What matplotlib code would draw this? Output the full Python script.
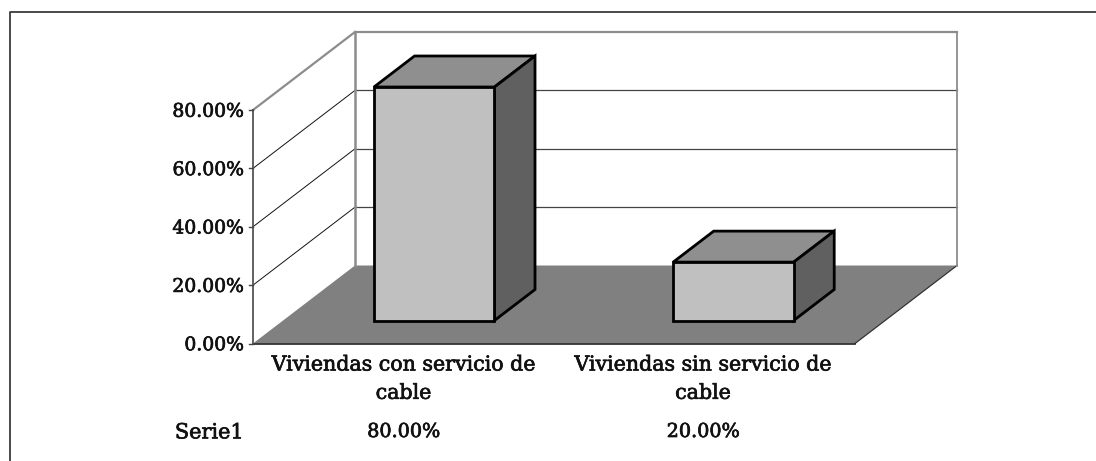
import matplotlib
matplotlib.use('Agg')
import matplotlib.pyplot as plt
import matplotlib.patheffects as pe

# data
categories = ['Viviendas con servicio de\ncable', 'Viviendas sin servicio de\ncable']
values = [80.0, 20.0]
y_ticks = [0, 20, 40, 60, 80]
series_name = 'Serie1'

W, H = 1096, 461
plt.rcParams['font.family'] = ['DejaVu Serif']

fig = plt.figure(figsize=(W / 100, H / 100), dpi=100)
ax = fig.add_axes([0, 0, 1, 1])

# one category = 301 px, 80% = 233.5 px, front corner of the floor at (253, 343.5)
ux = 301
uy = 233.5 / 80
ax.set_xlim(-253 / ux, (W - 253) / ux)
ax.set_ylim(-(H - 343.5) / uy, 343.5 / uy)
ax.axis('off')

# depth of the floor, in data units
depth_x = 102 / ux
depth_y = 78 / uy
n = len(categories)

# regular serif with a thin stroke, closer to the semi-bold face of the original
heavy = [pe.withStroke(linewidth=0.5, foreground='#111111')]


def pt(x, y, d=0.0):
    return (x + d * depth_x, y + d * depth_y)


def line(p, q, **kw):
    ax.plot([p[0], q[0]], [p[1], q[1]], solid_capstyle='projecting', **kw)


def poly(pts, **kw):
    ax.fill([p[0] for p in pts], [p[1] for p in pts], **kw)


# outer frame
frame_x = (10 - 253) / ux
frame_y = (343.5 - 12) / uy
ax.plot([frame_x, frame_x, ax.get_xlim()[1]], [ax.get_ylim()[0], frame_y, frame_y],
        color='#3c3c3c', lw=1.3, clip_on=False)

# floor
poly([pt(0, 0), pt(n, 0), pt(n, 0, 1), pt(0, 0, 1)], fc='#808080', ec='none', zorder=1)
line(pt(n, 0), pt(n, 0, 1), color='#333333', lw=0.9, zorder=2)
line(pt(0, 0), pt(n, 0), color='#222222', lw=1.2, zorder=2)

# gridlines on the side and back walls
for t in y_ticks[1:-1]:
    line(pt(0, t), pt(0, t, 1), color='#111111', lw=0.7, zorder=1)
    line(pt(0, t, 1), pt(n, t, 1), color='#444444', lw=0.9, zorder=1)

# wall outline
top = y_ticks[-1]
line(pt(0, top), pt(0, top, 1), color='#8c8c8c', lw=1.6, zorder=2)
line(pt(0, top, 1), pt(n, top, 1), color='#8c8c8c', lw=1.6, zorder=2)
line(pt(0, 0, 1), pt(0, top, 1), color='#8c8c8c', lw=1.8, zorder=2)
line(pt(n, 0, 1), pt(n, top, 1), color='#8c8c8c', lw=1.3, zorder=2)
line(pt(0, 0), pt(0, top), color='#555555', lw=1.3, zorder=3)

# y axis ticks and labels
for t in y_ticks:
    ax.plot([-4 / ux, 0], [t, t], color='#444444', lw=1.0, zorder=3)
    ax.text(-9 / ux, t - 0.6, '%.2f%%' % t, ha='right', va='center', fontsize=13.5,
            color='#111111', path_effects=heavy)

# bars
bar_left = [0.302, 1.296]
bar_w = 120.5 / ux
d0 = 23 / 78
d1 = d0 + 31 / 78
for left, v in zip(bar_left, values):
    right = left + bar_w
    edge = dict(ec='black', lw=2.0, joinstyle='miter', zorder=5)
    poly([pt(left, v, d0), pt(right, v, d0), pt(right, v, d1), pt(left, v, d1)], fc='#8f8f8f', **edge)
    poly([pt(right, 0, d0), pt(right, 0, d1), pt(right, v, d1), pt(right, v, d0)], fc='#606060', **edge)
    poly([pt(left, 0, d0), pt(right, 0, d0), pt(right, v, d0), pt(left, v, d0)], fc='#c0c0c0', **edge)

# category labels and data table row
label_x = [0.5, 1.495]
y_cat = -12 / uy
y_row = -(432 - 343.5) / uy
for x, c, v in zip(label_x, categories, values):
    ax.text(x, y_cat, c, ha='center', va='top', fontsize=14.8, linespacing=1.62,
            color='#111111', path_effects=heavy)
    ax.text(x, y_row, '%.2f%%' % v, ha='center', va='center', fontsize=13.8,
            color='#111111', path_effects=heavy)
ax.text(-9 / ux, y_row - 0.3, series_name, ha='right', va='center', fontsize=15,
        color='#111111', path_effects=heavy)

fig.savefig('out.png', dpi=100)
